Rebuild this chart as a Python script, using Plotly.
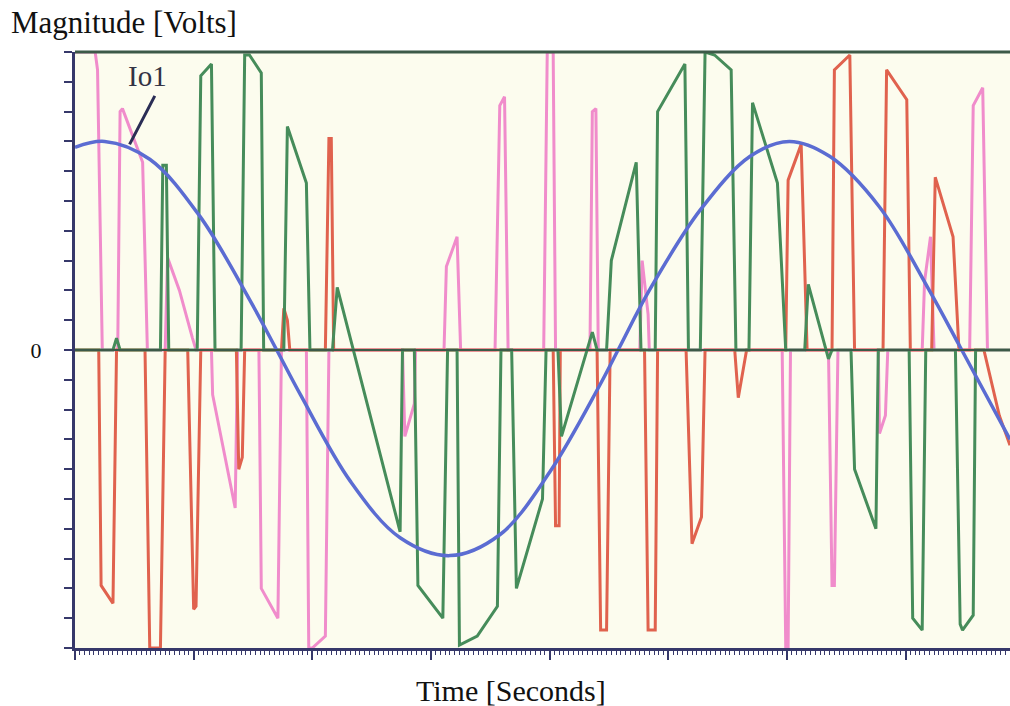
import plotly.graph_objects as go

# Time axis in arbitrary units (major tick every 10 units)
t_pink = [0, 1.7, 1.9, 2.3, 3.6, 3.8, 4.0, 5.7, 6.1, 7.6, 7.8, 8.8, 9.9, 10.2, 11.5, 11.6, 13.5, 13.7,
          15.5, 15.7, 17.1, 17.4, 19.5, 19.7, 20.0, 21.1, 21.4, 27.6, 27.8, 28.6, 28.7, 31.1, 31.3, 32.2, 32.5,
          35.4, 35.8, 36.2, 36.5, 39.5, 39.8, 40.3, 40.5, 43.4, 43.6, 43.9, 44.1, 47.6, 47.8, 48.3, 48.4,
          59.6, 59.9, 60.1, 60.3, 63.5, 63.8, 64.0, 64.3, 67.7, 67.8, 68.3, 68.5, 71.4, 71.6, 72.1, 72.4,
          75.4, 75.7, 76.5, 76.9, 78.8]
v_pink = [10, 10, 9.4, 0, 0, 8.0, 8.1, 6.3, 0, 0, 3.1, 2.0, 0.4, 0, 0, -1.5, -5.3, 0,
          0, -8.0, -9.0, 0, 0, -10, -10, -9.6, 0, 0, -2.9, -1.8, 0, 0, 2.8, 3.8, 0,
          0, 8.2, 8.5, 0, 0, 10, 10, 0, 0, 8.0, 8.1, 0, 0, 3.0, 1.2, 0,
          0, -10, -10, 0, 0, -7.9, -7.9, 0, 0, -2.8, -2.2, 0, 0, 2.3, 3.8, 0,
          0, 8.2, 8.8, 0, 0]

t_red = [0, 2.0, 2.2, 3.2, 3.5, 5.9, 6.3, 7.2, 7.6, 9.5, 10.0, 10.2, 10.6, 13.6, 13.8, 14.1, 14.3,
         17.4, 17.6, 17.9, 18.1, 21.1, 21.4, 21.6, 21.8, 40.3, 40.5, 40.8, 40.9, 44.0, 44.3, 44.8, 45.1,
         48.0, 48.3, 48.9, 49.1, 51.5, 52.0, 52.8, 53.1, 55.6, 55.9, 56.6, 59.9, 60.1, 61.2, 61.7,
         63.8, 64.0, 65.3, 65.7, 68.1, 68.4, 70.1, 70.4, 72.2, 72.5, 74.0, 74.5, 76.6, 77.3, 77.9, 78.8]
v_red = [0, 0, -7.9, -8.5, 0, 0, -10, -10, 0, 0, -8.7, -8.6, 0, 0, -4.0, -3.6, 0,
         0, 1.4, 1.0, 0, 0, 7.1, 7.1, 0, 0, -5.9, -5.9, 0, 0, -9.4, -9.4, 0,
         0, -9.4, -9.4, 0, 0, -6.5, -5.6, 0, 0, -1.6, 0, 0, 5.7, 6.9, 0,
         0, 9.4, 9.9, 0, 0, 9.4, 8.4, 0, 0, 5.8, 3.8, 0, 0, -1.2, -2.2, -3.2]

t_green = [0, 3.2, 3.5, 3.8, 7.2, 7.4, 7.7, 7.9, 10.3, 10.6, 11.5, 11.8, 14.0, 14.3, 14.7, 15.7, 15.9,
           17.6, 17.9, 19.5, 19.8, 21.7, 22.1, 27.4, 27.6, 28.6, 28.9, 31.0, 31.4, 32.2, 32.4, 33.9, 35.6, 35.9,
           36.8, 37.2, 39.4, 39.7, 40.7, 41.0, 43.6, 44.0, 44.8, 45.2, 47.3, 47.7, 48.9, 49.1, 51.4, 51.7,
           52.7, 53.1, 53.9, 55.3, 55.7, 56.8, 57.1, 59.2, 59.9, 61.5, 61.8, 63.5, 63.8, 65.4, 65.7, 67.5, 67.7,
           70.3, 70.6, 71.4, 71.7, 74.2, 74.6, 74.8, 75.7, 75.9, 78.8]
v_green = [0, 0, 0.4, 0, 0, 6.2, 6.2, 0, 0, 9.2, 9.6, 0, 0, 9.9, 9.9, 9.3, 0,
           0, 7.5, 5.6, 0, 0, 2.1, -6.1, 0, 0, -7.9, -9.0, 0, 0, -9.9, -9.6, -8.6, 0,
           0, -8.0, -5.0, 0, 0, -2.9, 0.6, 0, 0, 3.0, 6.3, 0, 0, 8.0, 9.6, 0,
           0, 10, 9.9, 9.4, 0, 0, 8.3, 5.6, 0, 0, 2.2, -0.3, 0, 0, -4.0, -6.0, 0,
           0, -9.0, -9.4, 0, 0, -9.2, -9.4, -8.9, 0, 0]

t_io1 = [0, 2.5, 6.3, 10.5, 14.7, 17.0, 19.0, 23.2, 27.4, 31.6, 35.8, 40.0, 44.2, 45.9, 48.4,
         52.7, 56.9, 60.2, 63.6, 67.8, 72.0, 74.6, 78.8]
v_io1 = [6.8, 7.0, 6.4, 4.5, 1.7, 0.0, -1.5, -4.4, -6.3, -6.9, -6.2, -4.1, -1.2, 0.1, 2.0,
         4.7, 6.5, 7.0, 6.5, 4.8, 2.0, 0.1, -3.0]

y_ticks = list(range(-10, 11))
y_ticktext = ["0" if v == 0 else "" for v in y_ticks]

PINK = "#f08ccb"
RED = "#e0624e"
GREEN = "#468c5a"
BLUE = "#5b6cd2"
AXIS = "#36386a"
DKGREEN = "#3c5a48"
FONT = "Liberation Serif"

fig = go.Figure()
fig.add_trace(go.Scatter(x=t_pink, y=v_pink, mode="lines", line=dict(color=PINK, width=3), name="pink"))
fig.add_trace(go.Scatter(x=t_red, y=v_red, mode="lines", line=dict(color=RED, width=3), name="red"))
fig.add_trace(go.Scatter(x=t_green, y=v_green, mode="lines", line=dict(color=GREEN, width=3), name="green"))
fig.add_trace(go.Scatter(x=t_io1, y=v_io1, mode="lines", line=dict(color=BLUE, width=3.5, shape="spline", smoothing=1.0),
                         name="Io1"))

fig.update_layout(
    width=1010, height=706,
    margin=dict(l=75, r=0, t=52, b=58),
    paper_bgcolor="white",
    plot_bgcolor="#fcfcee",
    showlegend=False,
    font=dict(family=FONT, color="#111111"),
    xaxis=dict(range=[0, 78.8], showline=True, linecolor=AXIS, linewidth=3,
               ticks="outside", ticklen=9, tickwidth=2, tickcolor=AXIS, tick0=0, dtick=10,
               showticklabels=False, showgrid=False, zeroline=False,
               minor=dict(ticks="outside", ticklen=4, tickwidth=1, tickcolor=AXIS, dtick=0.4, showgrid=False)),
    yaxis=dict(range=[-10, 10], showline=True, linecolor=AXIS, linewidth=3,
               ticks="outside", ticklen=8, tickwidth=2, tickcolor=AXIS,
               tickvals=y_ticks, ticktext=y_ticktext, tickfont=dict(family=FONT, size=22, color="#111111"),
               ticklabelstandoff=18,
               showgrid=False, zeroline=False),
    shapes=[dict(type="line", xref="paper", yref="paper", x0=0, x1=1, y0=1, y1=1,
                 line=dict(color=DKGREEN, width=3), layer="above"),
            dict(type="line", xref="paper", yref="y", x0=0, x1=1, y0=0, y1=0,
                 line=dict(color=DKGREEN, width=2), layer="above")],
    annotations=[
        dict(text="Magnitude [Volts]", xref="paper", yref="paper", x=0, y=1, xanchor="left", yanchor="middle",
             xshift=-66, yshift=30, showarrow=False, font=dict(family=FONT, size=31, color="#111111")),
        dict(text="Time [Seconds]", xref="paper", yref="paper", x=0.466, y=0, xanchor="center", yanchor="middle",
             yshift=-42, showarrow=False, font=dict(family=FONT, size=30, color="#111111")),
        dict(text="Io1", x=6.1, y=9.2, xanchor="center", yanchor="middle", showarrow=False,
             font=dict(family=FONT, size=29, color="#333344")),
        dict(text="", x=4.6, y=6.9, ax=26, ay=-50, showarrow=True, arrowhead=0, arrowwidth=3,
             arrowcolor="#2a2d55"),
    ],
)

fig.write_html("out.html", config={"displayModeBar": False},
               post_script="document.body.style.margin='0px';document.body.style.overflow='hidden';")
